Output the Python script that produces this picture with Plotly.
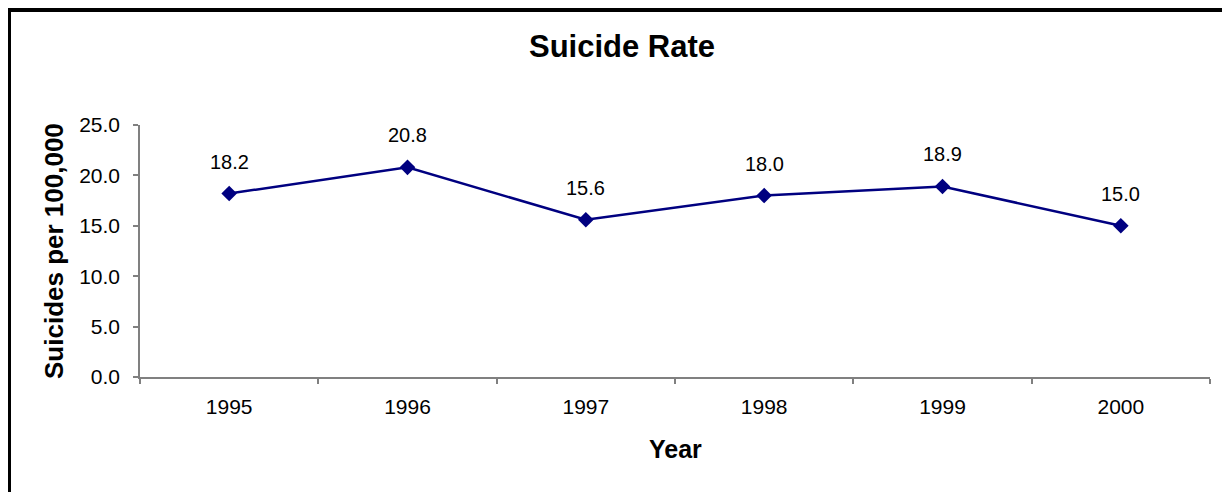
import plotly.graph_objects as go

years = ["1995", "1996", "1997", "1998", "1999", "2000"]
rates = [18.2, 20.8, 15.6, 18.0, 18.9, 15.0]
y_ticks = [0, 5, 10, 15, 20, 25]
y_tick_labels = ["0.0", "5.0", "10.0", "15.0", "20.0", "25.0"]

FONT = "Arial, Liberation Sans, sans-serif"
NAVY = "#000080"
GRAY = "#808080"

W, H = 1230, 492
OFF = 8  # page body margin offset
L, T = 140 - OFF, 125 - OFF
pw, ph = 1070, 252
R = W - L - pw
B = H - T - ph

def px_x(px):
    return (px - OFF - L) / pw

def px_y(py):
    return (T + ph - (py - OFF)) / ph

fig = go.Figure()
fig.add_trace(go.Scatter(
    x=years, y=rates, mode="lines+markers",
    line=dict(color=NAVY, width=2.5),
    marker=dict(symbol="diamond", size=12, color=NAVY),
    hoverinfo="skip", showlegend=False,
))

annotations = []
for i, (yr, v) in enumerate(zip(years, rates)):
    annotations.append(dict(
        x=i, y=v, xref="x", yref="y", text=f"{v:.1f}", showarrow=False,
        yshift=32, yanchor="middle", xanchor="center",
        font=dict(family=FONT, size=20, color="black"),
    ))
annotations.append(dict(
    x=px_x(54), y=0.5, xref="paper", yref="paper", text="<b>Suicides per 100,000</b>",
    showarrow=False, textangle=-90, xanchor="center", yanchor="middle",
    font=dict(family=FONT, size=26, color="black"),
))
annotations.append(dict(
    x=0.5, y=px_y(449), xref="paper", yref="paper", text="<b>Year</b>",
    showarrow=False, xanchor="center", yanchor="middle",
    font=dict(family=FONT, size=25, color="black"),
))

fig.update_layout(
    width=W, height=H,
    margin=dict(l=L, r=R, t=T, b=B, pad=0),
    paper_bgcolor="white", plot_bgcolor="white",
    title=dict(text="<b>Suicide Rate</b>", x=(622 - OFF) / W, xanchor="center",
               xref="container", yref="container",
               y=1 - (46 - OFF) / H, yanchor="middle",
               font=dict(family=FONT, size=31, color="black")),
    xaxis=dict(
        type="category", range=[-0.5, 5.5], tickson="boundaries",
        showline=True, linecolor=GRAY, linewidth=1.5,
        ticks="outside", ticklen=5, tickcolor=GRAY, tickwidth=1.5,
        showgrid=False, zeroline=False, ticklabelstandoff=10,
        tickfont=dict(family=FONT, size=21, color="black"),
    ),
    yaxis=dict(
        range=[0, 25], tickvals=y_ticks, ticktext=y_tick_labels,
        showline=True, linecolor=GRAY, linewidth=1.5,
        ticks="outside", ticklen=5, tickcolor=GRAY, tickwidth=1.5,
        showgrid=False, zeroline=False, ticklabelstandoff=9,
        tickfont=dict(family=FONT, size=21, color="black"),
    ),
    annotations=annotations,
    shapes=[dict(
        type="rect", xref="paper", yref="paper",
        x0=px_x(8.5), x1=px_x(1260), y0=px_y(520), y1=px_y(9.5),
        line=dict(color="black", width=5), fillcolor="rgba(0,0,0,0)", layer="above",
    )],
)

fig.write_html("out.html")
